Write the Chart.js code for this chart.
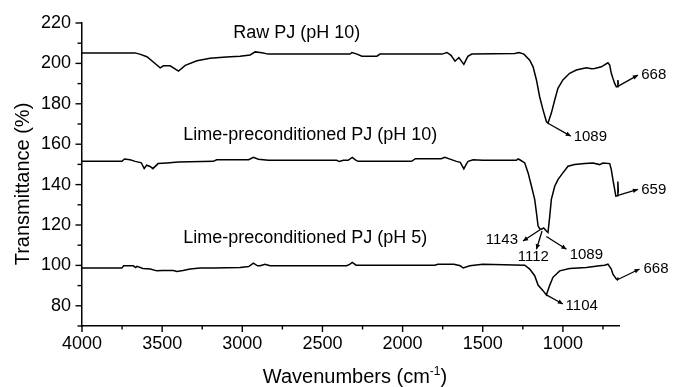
<!DOCTYPE html>
<html>
<head>
<meta charset="utf-8">
<script src="https://cdn.jsdelivr.net/npm/chart.js@4.4.1/dist/chart.umd.min.js"></script>
<style>
  html, body { margin: 0; padding: 0; background: #fff; }
</style>
</head>
<body>
<canvas id="ftirChart" width="673" height="387"></canvas>
<script>
// Raw PJ (pH 10): wavenumber (cm-1) / transmittance (%)
const rawWn = [4000, 3670, 3640, 3595, 3533, 3512, 3492, 3450, 3398, 3356, 3283, 3201, 3100, 3014, 2951, 2920, 2877, 2839,
  2328, 2316, 2284, 2254, 2160, 2141, 1755, 1723, 1698, 1673, 1649, 1618, 1593, 1568, 1300, 1274, 1243, 1207, 1186, 1165,
  1145, 1124, 1103, 1093, 1072, 1051, 1031, 1000, 958, 916, 875, 854, 821, 802, 760, 719, 708, 698, 688, 677, 667, 660, 657, 654];
const rawT = [205.2, 205.2, 204.6, 203.3, 199.2, 197.8, 198.8, 198.8, 196.2, 199.0, 201.3, 202.5, 203.2, 203.6, 204.2, 205.7, 205.3, 204.6,
  204.6, 205.4, 204.6, 203.6, 203.6, 204.6, 204.6, 205.4, 204.0, 201.1, 202.9, 199.5, 203.5, 204.6, 204.9, 205.4, 204.6, 201.6, 198.3, 191.8,
  183.5, 177.0, 171.2, 170.4, 175.4, 181.9, 187.7, 191.8, 195.1, 196.7, 197.5, 197.8, 197.4, 197.5, 198.3, 200.3, 199.2, 195.1, 192.6, 190.1, 188.5, 188.5, 191.8, 189.5];

// Lime-preconditioned PJ (pH 10)
const lime10Wn = [4000, 3751, 3735, 3700, 3668, 3630, 3612, 3597, 3575, 3558, 3525, 3471, 3400, 3180, 3160, 2960, 2931, 2900, 2837,
  2411, 2395, 2370, 2340, 2314, 2290, 2277, 1944, 1920, 1760, 1736, 1700, 1664, 1640, 1618, 1600, 1591, 1560, 1500, 1290, 1280,
  1269, 1238, 1217, 1196, 1176, 1165, 1155, 1145, 1134, 1120, 1103, 1093, 1082, 1072, 1051, 1031, 1000, 968, 927, 864, 812, 771,
  750, 708, 698, 688, 677, 670, 662, 657, 654];
const lime10T = [151.5, 151.5, 152.7, 152.3, 151.5, 150.8, 147.9, 149.6, 149.0, 147.9, 150.4, 150.7, 151.2, 151.5, 152.3, 152.3, 153.5, 152.6, 152.0,
  152.0, 151.4, 152.0, 152.0, 153.5, 152.0, 151.5, 151.5, 152.8, 152.8, 153.5, 152.5, 151.5, 151.0, 147.8, 150.5, 151.5, 152.3, 152.0, 152.0, 152.7,
  152.3, 150.7, 145.8, 139.2, 132.7, 126.1, 119.6, 118.2, 117.9, 118.5, 117.0, 116.3, 124.4, 132.7, 139.2, 142.5, 145.8, 149.1, 149.9, 150.4, 150.7, 149.9,
  150.7, 150.4, 147.4, 142.5, 137.6, 134.3, 134.5, 141.5, 136.0];

// Lime-preconditioned PJ (pH 5)
const lime5Wn = [4000, 3751, 3740, 3680, 3665, 3657, 3620, 3574, 3533, 3500, 3430, 3408, 3370, 3325, 3263, 3180, 3014, 2960, 2931,
  2905, 2889, 2858, 2827, 2349, 2330, 2314, 2290, 1799, 1780, 1680, 1640, 1622, 1581, 1500, 1238, 1207, 1176, 1155, 1124, 1103,
  1083, 1062, 1020, 958, 854, 771, 740, 719, 698, 688, 667, 660, 655];
const lime5T = [98.7, 98.7, 99.8, 99.8, 98.9, 99.5, 98.5, 98.2, 97.3, 97.5, 97.5, 97.0, 97.5, 98.2, 98.7, 98.7, 99.0, 99.4, 101.1,
  99.8, 99.8, 100.6, 99.8, 99.8, 100.5, 101.5, 100.1, 100.1, 100.6, 100.6, 99.8, 98.7, 99.8, 100.6, 100.1, 98.2, 94.9, 90.3, 87.5, 85.4,
  90.0, 94.1, 97.3, 98.5, 99.0, 99.8, 100.1, 100.6, 98.2, 95.7, 93.3, 92.9, 94.0];

const xTicks = [4000, 3750, 3500, 3250, 3000, 2750, 2500, 2250, 2000, 1750, 1500, 1250, 1000, 750];
const yTicks = [70, 80, 90, 100, 110, 120, 130, 140, 150, 160, 170, 180, 190, 200, 210, 220];

// curve names and where they sit (data coordinates)
const seriesNames = ['Raw PJ (pH 10)', 'Lime-preconditioned PJ (pH 10)', 'Lime-preconditioned PJ (pH 5)'];
const seriesNameAt = [[3057, 214.9], [3369, 164.7], [3369, 113.4]];

// peak callouts: arrow from the band to the label
const peakText = ['1089', '668', '659', '1143', '1112', '1089', '668', '1104'];
const peakFrom = [[1093, 170.4], [660, 188.5], [662, 134.5], [1138, 117.9], [1130, 117.0], [1103, 114.3], [660, 92.9], [1103, 85.4]];
const peakTo = [[951, 164.0], [532, 194.2], [532, 137.6], [1249, 112.1], [1165, 108.0], [978, 108.0], [522, 98.2], [1000, 80.9]];
const peakTextAt = [[933, 163.8], [511, 194.2], [511, 137.6], [1280, 112.5], [1185, 104.4], [958, 105.2], [497, 98.2], [983, 79.8]];
const peakAlign = ['left', 'left', 'left', 'right', 'center', 'left', 'left', 'left'];

const FONT = '"Liberation Sans", Arial, Helvetica, sans-serif';

const toPoints = (wn, t) => wn.map((w, i) => ({ x: w, y: t[i] }));

const drawArrow = (ctx, x1, y1, x2, y2) => {
    ctx.beginPath();
    ctx.moveTo(x1, y1);
    ctx.lineTo(x2, y2);
    ctx.stroke();
    const a = Math.atan2(y2 - y1, x2 - x1);
    const len = 5, half = 2.3;
    ctx.beginPath();
    ctx.moveTo(x2, y2);
    ctx.lineTo(x2 - len * Math.cos(a) + half * Math.sin(a), y2 - len * Math.sin(a) - half * Math.cos(a));
    ctx.lineTo(x2 - len * Math.cos(a) - half * Math.sin(a), y2 - len * Math.sin(a) + half * Math.cos(a));
    ctx.closePath();
    ctx.fill();
};

// tick marks, axis titles and text annotations
const decorPlugin = {
    id: 'decor',
    afterDraw(chart) {
        const { ctx, scales: { x, y }, chartArea } = chart;
        ctx.save();
        ctx.strokeStyle = '#000';
        ctx.fillStyle = '#000';
        ctx.lineWidth = 1.4;

        // outward ticks, long for labelled values
        x.ticks.forEach(t => {
            const px = x.getPixelForValue(t.value);
            const len = t.value % 500 === 0 ? 6 : 3.5;
            ctx.beginPath();
            ctx.moveTo(px, chartArea.bottom);
            ctx.lineTo(px, chartArea.bottom + len);
            ctx.stroke();
        });
        y.ticks.forEach(t => {
            const py = y.getPixelForValue(t.value);
            const len = t.value % 20 === 0 ? 6.5 : 4.5;
            ctx.beginPath();
            ctx.moveTo(chartArea.left, py);
            ctx.lineTo(chartArea.left - len, py);
            ctx.stroke();
        });

        // axis titles
        ctx.font = `20px ${FONT}`;
        ctx.textBaseline = 'alphabetic';
        const main = 'Wavenumbers (cm';
        ctx.font = `20px ${FONT}`;
        const wMain = ctx.measureText(main).width;
        ctx.font = `12px ${FONT}`;
        const wSup = ctx.measureText('-1').width;
        ctx.font = `20px ${FONT}`;
        const wClose = ctx.measureText(')').width;
        let tx = 355 - (wMain + wSup + wClose) / 2;
        ctx.textAlign = 'left';
        ctx.fillText(main, tx, 383);
        tx += wMain;
        ctx.font = `12px ${FONT}`;
        ctx.fillText('-1', tx, 375);
        tx += wSup;
        ctx.font = `20px ${FONT}`;
        ctx.fillText(')', tx, 383);

        ctx.save();
        ctx.translate(23, 184);
        ctx.rotate(-Math.PI / 2);
        ctx.textAlign = 'center';
        ctx.textBaseline = 'middle';
        ctx.fillText('Transmittance (%)', 0, 0);
        ctx.restore();

        // curve names
        ctx.font = `18px ${FONT}`;
        ctx.textAlign = 'left';
        ctx.textBaseline = 'middle';
        seriesNames.forEach((name, i) => {
            const [w, t] = seriesNameAt[i];
            ctx.fillText(name, x.getPixelForValue(w), y.getPixelForValue(t));
        });

        // peak arrows and numbers
        ctx.lineWidth = 1.3;
        ctx.font = `15px ${FONT}`;
        peakText.forEach((txt, i) => {
            drawArrow(ctx,
                x.getPixelForValue(peakFrom[i][0]), y.getPixelForValue(peakFrom[i][1]),
                x.getPixelForValue(peakTo[i][0]), y.getPixelForValue(peakTo[i][1]));
            ctx.textAlign = peakAlign[i];
            ctx.fillText(txt, x.getPixelForValue(peakTextAt[i][0]), y.getPixelForValue(peakTextAt[i][1]));
        });
        ctx.restore();
    }
};

const lineStyle = { borderColor: '#000', borderWidth: 1.5, pointRadius: 0, tension: 0, fill: false };

new Chart(document.getElementById('ftirChart'), {
    type: 'line',
    data: {
        datasets: [
            { label: seriesNames[0], data: toPoints(rawWn, rawT), ...lineStyle },
            { label: seriesNames[1], data: toPoints(lime10Wn, lime10T), ...lineStyle },
            { label: seriesNames[2], data: toPoints(lime5Wn, lime5T), ...lineStyle }
        ]
    },
    options: {
        responsive: false,
        animation: false,
        devicePixelRatio: 1,
        layout: { padding: { left: 0, right: 54, top: 23, bottom: 0 } },
        plugins: { legend: { display: false }, tooltip: { enabled: false } },
        scales: {
            x: {
                type: 'linear',
                reverse: true,
                min: 650,
                max: 4000,
                afterBuildTicks: s => { s.ticks = xTicks.map(v => ({ value: v })); },
                afterFit: s => { s.height = 61; },
                grid: { display: false, drawTicks: false, tickLength: 0 },
                border: { display: true, color: '#000', width: 1.5 },
                ticks: {
                    autoSkip: false,
                    maxRotation: 0,
                    padding: 7,
                    color: '#000',
                    font: { family: FONT, size: 18 },
                    callback: v => (v % 500 === 0 ? String(v) : '')
                }
            },
            y: {
                min: 70,
                max: 220,
                afterBuildTicks: s => { s.ticks = yTicks.map(v => ({ value: v })); },
                afterFit: s => { s.width = 82; },
                grid: { display: false, drawTicks: false, tickLength: 0 },
                border: { display: true, color: '#000', width: 1.5 },
                ticks: {
                    autoSkip: false,
                    padding: 11,
                    color: '#000',
                    font: { family: FONT, size: 18 },
                    callback: v => (v % 20 === 0 ? String(v) : '')
                }
            }
        }
    },
    plugins: [decorPlugin]
});
</script>
</body>
</html>
